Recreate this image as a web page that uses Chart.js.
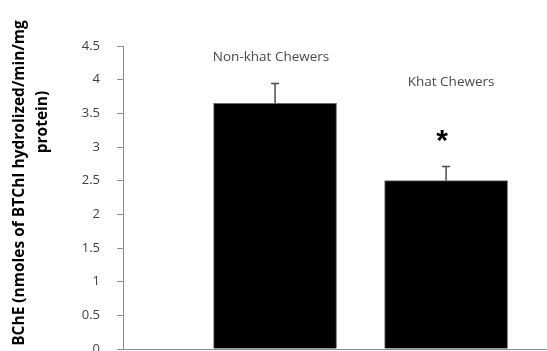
<!DOCTYPE html>
<html>
<head>
<meta charset="utf-8">
<script src="https://cdn.jsdelivr.net/npm/chart.js@4.4.0/dist/chart.umd.min.js"></script>
<style>
  html, body { margin: 0; padding: 0; background: #fff; overflow: hidden; }
  #wrap { width: 547px; height: 351px; position: relative; }
</style>
</head>
<body>
<div id="wrap"><canvas id="bcheChart"></canvas></div>
<script>
// BChE activity, mean and error per group
const groups = ["Non-khat Chewers", "Khat Chewers"];
const bcheMean = [3.65, 2.50];
const bcheErr = [0.30, 0.22];
const yTicks = [0, 0.5, 1, 1.5, 2, 2.5, 3, 3.5, 4, 4.5];
const yTitle = ["BChE (nmoles of BTChI hydrolized/min/mg", "protein)"];
const sigMark = ["", "*"];

const axisGrey = "#8c8c8c";

// error bars with a small cap on top
const errorBars = {
  id: "errorBars",
  afterDatasetsDraw(chart) {
    const ctx = chart.ctx;
    const y = chart.scales.y;
    ctx.save();
    ctx.strokeStyle = "#4d4d4d";
    ctx.lineWidth = 1.5;
    chart.getDatasetMeta(0).data.forEach((bar, i) => {
      const top = Math.round(y.getPixelForValue(bcheMean[i] + bcheErr[i])) + 0.5;
      ctx.beginPath();
      ctx.moveTo(bar.x, bar.y);
      ctx.lineTo(bar.x, top);
      ctx.moveTo(bar.x - 4, top);
      ctx.lineTo(bar.x + 4, top);
      ctx.stroke();
    });
    ctx.restore();
  }
};

// group names floating above the bars + significance star
const groupLabels = {
  id: "groupLabels",
  afterDatasetsDraw(chart, args, opts) {
    const ctx = chart.ctx;
    const y = chart.scales.y;
    const bars = chart.getDatasetMeta(0).data;
    ctx.save();
    ctx.textAlign = "center";
    ctx.textBaseline = "middle";
    bars.forEach((bar, i) => {
      ctx.fillStyle = "#4a4a4a";
      ctx.font = "13.5px 'Open Sans'";
      ctx.fillText(groups[i], bar.x + opts.dx[i], y.getPixelForValue(opts.levels[i]));
      if (sigMark[i]) {
        ctx.fillStyle = "#000";
        ctx.font = "bold 30px 'Liberation Sans'";
        ctx.fillText(sigMark[i], bar.x - 4, y.getPixelForValue(opts.starLevel) + 5);
      }
    });
    ctx.restore();
  }
};

// two-line rotated y title, as laid out in the original figure
const yTitlePlugin = {
  id: "yTitlePlugin",
  afterDraw(chart) {
    const ctx = chart.ctx;
    const spots = [[24, 183], [47, 122]];
    ctx.save();
    ctx.fillStyle = "#000";
    ctx.font = "bold 15.5px 'Open Sans'";
    ctx.textAlign = "center";
    ctx.textBaseline = "alphabetic";
    yTitle.forEach((line, i) => {
      ctx.save();
      ctx.translate(spots[i][0], spots[i][1]);
      ctx.rotate(-Math.PI / 2);
      ctx.fillText(line, 0, 0);
      ctx.restore();
    });
    ctx.restore();
  }
};

new Chart(document.getElementById("bcheChart"), {
  type: "bar",
  data: {
    datasets: [
      {
        label: "BChE",
        data: bcheMean.map((v, i) => ({ x: i + 1, y: v })),
        backgroundColor: "#000",
        borderColor: "#6b6b6b",
        borderWidth: 1,
        barThickness: 123
      }
    ]
  },
  options: {
    responsive: true,
    maintainAspectRatio: false,
    animation: false,
    layout: { padding: { top: 46, bottom: 2, left: 0, right: 0 } },
    plugins: {
      legend: { display: false },
      tooltip: { enabled: false },
      groupLabels: { levels: [4.34, 3.97], dx: [-4, 5], starLevel: 3.15 }
    },
    scales: {
      x: {
        type: "linear",
        bounds: "data",
        min: 0.111,
        max: 2.59,
        grid: { display: false },
        border: { color: axisGrey, width: 1 },
        ticks: { display: false },
        afterBuildTicks: (s) => { s.ticks = []; },
        afterFit: (s) => { s.height = 0; }
      },
      y: {
        min: 0,
        max: 4.5,
        afterBuildTicks: (s) => { s.ticks = yTicks.map((v) => ({ value: v })); },
        ticks: {
          color: "#404040",
          font: { family: "'Open Sans'", size: 13 },
          padding: 17,
          callback: (v) => String(v)
        },
        grid: { drawOnChartArea: false, tickLength: 6, color: axisGrey },
        border: { color: axisGrey, width: 1 },
        afterFit: (s) => { s.width = 123; s.paddingTop = 0; s.paddingBottom = 0; }
      }
    }
  },
  plugins: [errorBars, groupLabels, yTitlePlugin]
});
</script>
</body>
</html>
